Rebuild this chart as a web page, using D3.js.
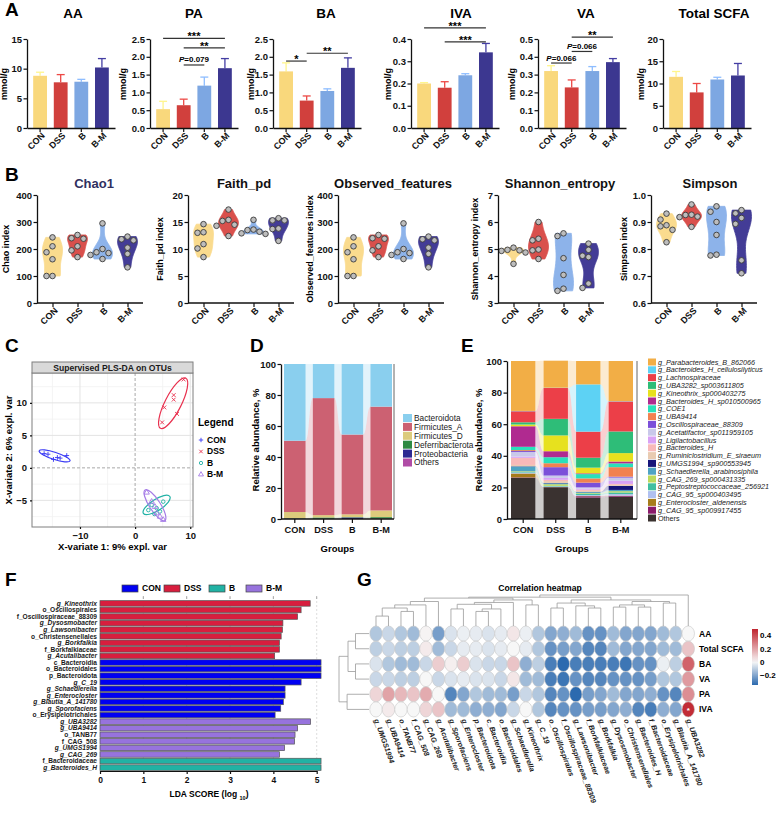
<!DOCTYPE html>
<html>
<head>
<meta charset="utf-8">
<script src="https://cdn.jsdelivr.net/npm/d3@7/dist/d3.min.js"></script>
<style>
  body { margin: 0; background: #fff; }
  svg { display: block; }
</style>
</head>
<body>
<div id="fig"></div>
<script>
var FONT = "'Liberation Sans', Arial, sans-serif";

// ---------- shared ----------
var groups = ["CON", "DSS", "B", "B-M"];
var groupColors = ["#F9D87C", "#D1403D", "#7DA7E2", "#3C3790"];
var violinColors = ["#FADB8E", "#D9504C", "#8DB3EA", "#433C96"];

// ---------- A: SCFA bars (mean, sd) ----------
var scfaNames = ["AA", "PA", "BA", "IVA", "VA", "Total SCFA"];
var aaMean = [8.8, 7.7, 7.8, 10.2],        aaSd = [0.6, 1.3, 0.4, 1.5];
var paMean = [0.53, 0.64, 1.19, 1.68],     paSd = [0.22, 0.17, 0.24, 0.27];
var baMean = [1.59, 0.77, 1.04, 1.69],     baSd = [0.24, 0.13, 0.06, 0.28];
var ivaMean = [0.200, 0.181, 0.237, 0.340], ivaSd = [0.004, 0.027, 0.007, 0.040];
var vaMean = [0.32, 0.228, 0.32, 0.37],    vaSd = [0.03, 0.042, 0.025, 0.02];
var totMean = [11.5, 8.0, 10.9, 11.8],     totSd = [1.2, 2.0, 0.5, 2.7];
var scfaMax = [15, 2.5, 2.5, 0.4, 0.5, 20];
var scfaStep = [5, 0.5, 0.5, 0.1, 0.1, 5];
// [from, to, level, label]
var aaSig = [];
var paSig = [[0, 3, 2.52, "***"], [1, 3, 2.25, "**"], [1, 2, 1.77, "P=0.079"]];
var baSig = [[0, 1, 1.88, "*"], [1, 3, 2.1, "**"]];
var ivaSig = [[0, 3, 0.45, "***"], [1, 3, 0.387, "***"]];
var vaSig = [[1, 3, 0.51, "**"], [1, 2, 0.43, "P=0.066"], [0, 1, 0.365, "P=0.066"]];
var totSig = [];

// ---------- B: alpha diversity (6 mice / group) ----------
var alphaNames = ["Chao1", "Faith_pd", "Observed_features", "Shannon_entropy", "Simpson"];
var alphaYLabels = ["Chao index", "Faith_pd index", "Observed_features index", "Shannon_entropy index", "Simpson index"];
var chao1 = [[243, 210, 188, 162, 100, 100], [240, 252, 238, 210, 195, 170], [295, 188, 185, 200, 178, 163], [236, 246, 232, 205, 182, 132]];
var faithPd = [[14.6, 13.0, 13.1, 10.9, 10.1, 8.5], [17.3, 15.2, 15.4, 14.5, 14.3, 12.4], [15.4, 13.6, 13.5, 13.2, 12.8, 12.9], [15.3, 15.3, 15.7, 13.8, 13.7, 11.5]];
var observed = [[243, 210, 188, 162, 100, 100], [240, 252, 238, 210, 195, 170], [295, 188, 185, 200, 178, 163], [236, 246, 232, 205, 182, 132]];
var shannon = [[5.05, 4.97, 4.95, 4.93, 4.87, 4.45], [6.0, 5.38, 5.32, 4.98, 4.95, 4.63], [5.58, 5.48, 4.66, 4.04, 3.53, 3.45], [5.2, 4.97, 4.75, 4.7, 3.72, 3.56]];
var simpson = [[0.931, 0.909, 0.888, 0.884, 0.871, 0.825], [0.965, 0.926, 0.927, 0.92, 0.918, 0.882], [0.958, 0.938, 0.9, 0.852, 0.776, 0.779], [0.944, 0.932, 0.915, 0.893, 0.758, 0.71]];
var alphaDomains = [[0, 400], [0, 20], [0, 400], [3, 7], [0.6, 1.0]];
var alphaSteps = [100, 5, 100, 1, 0.1];

// ---------- C: PLS-DA ----------
var plsCON = [[-16.5, 2.2], [-15.8, 2.1], [-14.8, 1.3], [-14.1, 1.6], [-13.6, 1.5], [-12.4, 1.9]];
var plsDSS = [[8.8, 13.6], [7.0, 11.2], [7.0, 10.5], [5.3, 9.3], [7.6, 8.3], [4.9, 7.0]];
var plsB = [[3.0, -5.7], [3.9, -6.2], [2.4, -6.5], [4.5, -6.7], [3.5, -7.1], [5.1, -5.2]];
var plsBM = [[2.1, -3.8], [3.0, -5.2], [3.6, -6.0], [3.9, -7.0], [4.5, -7.5], [5.1, -8.0]];
// ellipse: centre x, centre y, major half-axis dx, dy, minor/major ratio
var ellCON = [-14.6, 1.85, 2.8, -0.77, 0.22];
var ellDSS = [6.9, 9.95, 2.3, 3.85, 0.29];
var ellB = [3.9, -5.7, 2.4, 1.3, 0.36];
var ellBM = [3.6, -5.75, -1.8, 2.35, 0.3];
var plsColors = ["#3A3AF5", "#E8304E", "#22B2A6", "#A57BE6"];

// ---------- D: phylum composition (%) ----------
var phylumNames = ["Bacteroidota", "Firmicutes_A", "Firmicutes_D", "Deferribacterota", "Proteobacteria", "Others"];
var phylumColors = ["#8ACFEE", "#CC6172", "#DCCB7C", "#2E8A43", "#2C2A92", "#B04CA6"];
var bacteroidota = [49.5, 22.0, 45.5, 27.5];
var firmicutesA = [46.0, 75.5, 51.5, 67.0];
var firmicutesD = [4.0, 1.5, 1.8, 4.3];
var deferribacterota = [0.3, 0.8, 0.2, 1.0];
var proteobacteria = [0.1, 0.1, 1.0, 0.1];
var phylumOthers = [0.1, 0.1, 0.0, 0.1];

// ---------- E: genus composition (%) ----------
var genusNames = ["g_Parabacteroides_B_862066", "g_Bacteroides_H_cellulosilyticus", "g_Lachnospiraceae",
  "g_UBA3282_sp003611805", "g_Kineothrix_sp000403275", "g_Bacteroides_H_sp010500965", "g_COE1", "g_UBA9414",
  "g_Oscillospiraceae_88309", "g_Acetatifactor_sp011959105", "g_Ligilactobacillus", "g_Bacteroides_H",
  "g_Ruminiclostridium_E_siraeum", "g_UMGS1994_sp900553945", "g_Schaedlerella_arabinosiphila",
  "g_CAG_269_sp000431335", "g_Peptostreptococcaceae_256921", "g_CAG_95_sp000403495",
  "g_Enterocloster_aldenensis", "g_CAG_95_sp009917455", "Others"];
var genusColors = ["#F2AE46", "#5DD2F4", "#EC3F48", "#2EBD78", "#E7E11E", "#B02A90", "#29E0BA", "#F28150",
  "#7B4FD9", "#C9C8EA", "#D9A2F5", "#F8B9B9", "#E9CBB1", "#16157A", "#4FA3C4", "#BCD95B", "#41BFA1",
  "#B0C0F0", "#A67C1B", "#8A1B6B", "#3A3230"];
var genusValues = [
  [31.6, 17.1, 14.8, 25.4], [0.2, 0.2, 29.9, 0.2], [7.0, 19.5, 16.5, 19.0], [1.4, 10.5, 6.3, 13.7],
  [1.1, 10.0, 3.6, 5.3], [13.0, 3.8, 0.5, 1.2], [2.1, 3.8, 2.7, 2.4], [0.6, 2.5, 2.7, 6.0],
  [0.6, 5.3, 3.0, 0.6], [2.9, 1.5, 0.8, 2.0], [0.8, 1.2, 0.6, 2.0], [4.5, 0.8, 0.8, 0.6],
  [0.8, 1.2, 0.6, 0.6], [0.2, 0.2, 0.2, 2.6], [3.0, 0.6, 0.5, 0.8], [0.4, 1.0, 0.4, 0.8],
  [0.4, 0.4, 1.0, 1.0], [0.6, 0.3, 0.5, 1.0], [2.5, 0.1, 0.2, 0.2], [0.3, 0.1, 0.8, 0.5],
  [26.0, 20.1, 13.6, 14.1]];

// ---------- F: LEfSe ----------
var lefseTaxa = ["g_Kineothrix", "o_Oscillospirales", "f_Oscillospiraceae_88309", "g_Dysosmobacter", "g_Lawsonibacter",
  "o_Christensenellales", "g_Borkfalkia", "f_Borkfalkiaceae", "g_Acutalibacter",
  "c_Bacteroidia", "o_Bacteroidales", "p_Bacteroidota", "g_C_19", "g_Schaedlerella", "g_Enterocloster",
  "g_Blautia_A_141780", "g_Sporofaciens", "o_Erysipelotrichales",
  "g_UBA3282", "g_UBA9414", "o_TANB77", "f_CAG_508", "g_UMGS1994", "g_CAG_269",
  "f_Bacteroidaceae", "g_Bacteroides_H"];
var lefseScores = [4.85, 4.64, 4.56, 4.22, 4.21, 4.18, 4.14, 4.14, 4.03,
  5.1, 5.1, 5.1, 4.64, 4.27, 4.27, 4.23, 4.17, 4.04,
  4.86, 4.56, 4.50, 4.49, 4.26, 4.14,
  5.1, 5.1];
var lefseGroup = ["DSS", "DSS", "DSS", "DSS", "DSS", "DSS", "DSS", "DSS", "DSS",
  "CON", "CON", "CON", "CON", "CON", "CON", "CON", "CON", "CON",
  "B-M", "B-M", "B-M", "B-M", "B-M", "B-M", "B", "B"];
var lefseColors = {"CON": "#0000F2", "DSS": "#D81E3E", "B": "#21B2A4", "B-M": "#9773DD"};
var lefseTicks = [0, 1, 2, 3, 4, 5];

// ---------- G: correlation heatmap ----------
var corrTaxa = ["g_UMGS1994", "g_UBA9414", "o_TANB77", "f_CAG_508", "g_CAG_269", "g_Acutalibacter", "g_Sporofaciens",
  "g_Enterocloster", "p_Bacteroidota", "c_Bacteroidia", "o_Bacteroidales", "g_Schaedlerella", "g_Kineothrix", "g_C_19",
  "o_Oscillospirales", "f_Oscillospiraceae_88309", "g_Lawsonibacter", "f_Borkfalkiaceae", "g_Borkfalkia",
  "g_Dysosmobacter", "o_Christensenellales", "g_Bacteroides_H", "f_Bacteroidaceae", "o_Erysipelotrichales",
  "g_Blautia_A_141780", "g_UBA3282"];
var corrRows = ["AA", "Total SCFA", "BA", "VA", "PA", "IVA"];
var corAA = [-0.12, -0.08, -0.12, -0.15, 0.01, -0.22, -0.05, -0.02, -0.03, -0.05, -0.03, 0.04, -0.02, -0.12, -0.2, -0.18, -0.15, -0.25, -0.25, -0.15, -0.2, -0.2, -0.2, -0.15, -0.12, 0.0];
var corTotal = [-0.1, -0.08, -0.1, -0.1, 0.03, -0.15, -0.08, -0.03, -0.03, -0.05, -0.03, 0.0, -0.03, -0.12, -0.25, -0.22, -0.2, -0.28, -0.28, -0.15, -0.2, -0.2, -0.2, -0.15, -0.15, 0.12];
var corBA = [-0.05, -0.12, -0.15, -0.15, -0.08, 0.1, 0.02, 0.1, -0.05, -0.08, -0.08, 0.12, -0.18, -0.1, -0.3, -0.35, -0.3, -0.3, -0.3, -0.3, -0.32, -0.25, -0.25, -0.02, -0.1, 0.35];
var corVA = [-0.08, -0.08, -0.1, -0.1, 0.0, -0.08, -0.05, -0.03, -0.05, -0.05, -0.08, 0.04, -0.15, -0.15, -0.3, -0.32, -0.25, -0.28, -0.28, -0.25, -0.25, -0.25, -0.22, -0.12, -0.12, 0.22];
var corPA = [0.08, 0.2, 0.15, 0.12, 0.18, 0.0, -0.28, -0.2, -0.12, -0.15, -0.15, -0.22, -0.08, -0.12, -0.28, -0.25, -0.35, -0.22, -0.2, -0.15, -0.2, -0.2, -0.18, -0.25, -0.28, 0.25];
var corIVA = [0.0, 0.03, 0.0, 0.0, 0.08, 0.12, -0.15, -0.15, -0.18, -0.18, -0.2, -0.08, 0.0, -0.12, -0.28, -0.25, -0.25, -0.22, -0.22, -0.2, -0.18, -0.28, -0.3, -0.18, -0.2, 0.48];
var corSignif = [[5, 25]]; // [row, col] with *
// dendrograms: [childA, childB, height]; nodes >= leaf count are earlier merges
var colTree = [[0, 1, 0.32], [2, 3, 0.47], [26, 27, 0.58], [28, 4, 0.68], [29, 5, 0.79],
  [6, 7, 0.55], [8, 9, 0.47], [32, 10, 0.55], [31, 33, 0.7], [34, 11, 0.76], [12, 13, 0.68], [35, 36, 0.84],
  [30, 37, 0.9], [14, 15, 0.58], [17, 18, 0.58], [16, 40, 0.65], [39, 41, 0.74], [19, 20, 0.61], [21, 22, 0.61],
  [43, 44, 0.68], [23, 24, 0.74], [45, 46, 0.79], [42, 47, 0.84], [38, 48, 0.93], [49, 25, 1.0]];
var rowTree = [[0, 1, 0.45], [2, 3, 0.45], [6, 7, 0.7], [4, 5, 0.73], [8, 9, 1.0]];

// ================= drawing =================
var svg = d3.select("#fig").append("svg")
  .attr("width", 778).attr("height", 814)
  .style("font-family", FONT);

function label(t, x, y) {
  svg.append("text").attr("x", x).attr("y", y).attr("font-size", 19)
    .attr("font-weight", "bold").attr("fill", "#000").text(t);
}
function styleAxis(ax, fs) {
  ax.attr("font-family", FONT).attr("font-size", fs).attr("font-weight", "bold");
  ax.select(".domain").attr("stroke", "#111").attr("stroke-width", 1.3);
  ax.selectAll(".tick line").attr("stroke", "#111").attr("stroke-width", 1.2);
  ax.selectAll(".tick text").attr("fill", "#111");
}
function yTitle(t, x, y, fs) {
  svg.append("text").attr("transform", "translate(" + x + "," + y + ") rotate(-90)")
    .attr("text-anchor", "middle").attr("font-size", fs).attr("font-weight", "bold").text(t);
}
function rotXLabels(ax) {
  ax.selectAll(".tick text").attr("x", 0).attr("y", 0).attr("dy", "0.35em")
    .attr("text-anchor", "end").attr("transform", "translate(3,6) rotate(-45)");
}

// ----- A -----
label("A", 5, 16);
var aMeans = [aaMean, paMean, baMean, ivaMean, vaMean, totMean];
var aSds = [aaSd, paSd, baSd, ivaSd, vaSd, totSd];
var aSigs = [aaSig, paSig, baSig, ivaSig, vaSig, totSig];
var aAxisX = [27, 150, 273, 411, 538, 663];
var aTitleX = [73, 194, 326, 461, 586, 714];
var aYLabX = [7, 126, 254, 391, 515, 644];

scfaNames.forEach(function (nm, k) {
  var x0 = aAxisX[k];
  var y = d3.scaleLinear().domain([0, scfaMax[k]]).range([128, 39]);
  var x = d3.scaleBand().domain(groups).range([x0, x0 + 88]).paddingInner(0.33).paddingOuter(0.3);
  var g = svg.append("g");
  var mean = aMeans[k], sd = aSds[k];

  svg.append("text").attr("x", aTitleX[k]).attr("y", 18).attr("text-anchor", "middle")
    .attr("font-size", 13.5).attr("font-weight", "bold").text(nm);
  yTitle("mmol/g", aYLabX[k], 84, 9);

  // error bars (upper only)
  groups.forEach(function (gn, i) {
    var cx = x(gn) + x.bandwidth() / 2;
    var ec = d3.color(groupColors[i]).brighter(0.35).formatHex();
    g.append("line").attr("x1", cx).attr("x2", cx).attr("y1", y(mean[i])).attr("y2", y(mean[i] + sd[i]))
      .attr("stroke", ec).attr("stroke-width", 1.3);
    g.append("line").attr("x1", cx - 4).attr("x2", cx + 4).attr("y1", y(mean[i] + sd[i])).attr("y2", y(mean[i] + sd[i]))
      .attr("stroke", ec).attr("stroke-width", 1.3);
  });
  g.selectAll("rect.bar").data(groups).enter().append("rect").attr("class", "bar")
    .attr("x", function (d) { return x(d); })
    .attr("y", function (d, i) { return y(mean[i]); })
    .attr("width", x.bandwidth())
    .attr("height", function (d, i) { return y(0) - y(mean[i]); })
    .attr("fill", function (d, i) { return groupColors[i]; });

  var fmt = scfaStep[k] < 1 ? d3.format(".1f") : d3.format("d");
  var ay = svg.append("g").attr("transform", "translate(" + x0 + ",0)")
    .call(d3.axisLeft(y).tickValues(d3.range(0, scfaMax[k] + 1e-9, scfaStep[k])).tickSize(3.5).tickPadding(1.5).tickSizeOuter(0).tickFormat(fmt));
  styleAxis(ay, 9.5);
  var ax = svg.append("g").attr("transform", "translate(0,128)")
    .call(d3.axisBottom(x).tickSize(4).tickSizeOuter(0));
  styleAxis(ax, 9);
  rotXLabels(ax);

  aSigs[k].forEach(function (s) {
    var xa = x(groups[s[0]]) + x.bandwidth() / 2, xb = x(groups[s[1]]) + x.bandwidth() / 2, yy = y(s[2]);
    svg.append("line").attr("x1", xa).attr("x2", xb).attr("y1", yy).attr("y2", yy)
      .attr("stroke", "#333").attr("stroke-width", 1.2);
    var t = svg.append("text").attr("x", (xa + xb) / 2).attr("text-anchor", "middle").attr("font-weight", "bold");
    if (s[3].indexOf("P=") === 0) {
      t.attr("y", yy - 2.5).attr("font-size", 8);
      t.append("tspan").attr("font-style", "italic").text("P");
      t.append("tspan").text(s[3].slice(1));
    } else {
      t.attr("y", yy + 2).attr("font-size", 11).text(s[3]);
    }
  });
});

// ----- B -----
label("B", 5, 181);
var alphaData = [chao1, faithPd, observed, shannon, simpson];
var bAxisX = [37, 188, 338, 498, 651];
var bTitleX = [94, 244, 393, 560, 710];
var bYLabX = [9, 163, 313, 478, 627];

alphaNames.forEach(function (nm, k) {
  var x0 = bAxisX[k];
  var dom = alphaDomains[k];
  var y = d3.scaleLinear().domain(dom).range([303, 195]);
  var x = d3.scalePoint().domain(groups).range([x0, x0 + 106]).padding(0.62);

  svg.append("text").attr("x", bTitleX[k]).attr("y", 188).attr("text-anchor", "middle")
    .attr("font-size", 13).attr("font-weight", "bold").attr("fill", k === 0 ? "#30305F" : "#111").text(nm);
  yTitle(alphaYLabels[k], bYLabX[k], 249, 9);

  groups.forEach(function (gn, gi) {
    var vals = alphaData[k][gi];
    var lo = d3.min(vals), hi = d3.max(vals);
    var bw = Math.max((hi - lo) * 0.24, (dom[1] - dom[0]) * 0.015);
    var dens = d3.range(41).map(function (i) {
      var v = lo + (hi - lo) * i / 40;
      return [v, d3.mean(vals, function (d) { var u = (v - d) / bw; return Math.exp(-0.5 * u * u); })];
    });
    var w = d3.scaleLinear().domain([0, d3.max(dens, function (d) { return d[1]; })]).range([0, 10]);
    var cx = x(gn);
    svg.append("path").datum(dens)
      .attr("d", d3.area().curve(d3.curveBasis)
        .y(function (d) { return y(d[0]); })
        .x0(function (d) { return cx - w(d[1]); })
        .x1(function (d) { return cx + w(d[1]); }))
      .attr("fill", violinColors[gi]).attr("stroke", violinColors[gi]).attr("stroke-width", 0.8);

    // simple deterministic swarm
    var placed = [];
    vals.slice().sort(d3.descending).forEach(function (v) {
      var py = y(v), offs = [0, -6, 6, -12, 12], ox = 0;
      for (var j = 0; j < offs.length; j++) {
        var ok = placed.every(function (p) { return Math.hypot(p[0] - offs[j], p[1] - py) >= 6; });
        if (ok) { ox = offs[j]; break; }
      }
      placed.push([ox, py]);
    });
    svg.selectAll(null).data(placed).enter().append("circle")
      .attr("cx", function (d) { return cx + d[0]; }).attr("cy", function (d) { return d[1]; })
      .attr("r", 2.8).attr("fill", "#BDBDBD").attr("stroke", "#3A3A3A").attr("stroke-width", 0.9);
  });

  var fmt = alphaSteps[k] < 1 ? d3.format(".1f") : d3.format("d");
  var ay = svg.append("g").attr("transform", "translate(" + x0 + ",0)")
    .call(d3.axisLeft(y).tickValues(d3.range(dom[0], dom[1] + 1e-9, alphaSteps[k])).tickSize(3.5).tickPadding(1.5).tickSizeOuter(0).tickFormat(fmt));
  styleAxis(ay, 9.5);
  var ax = svg.append("g").attr("transform", "translate(0,303)")
    .call(d3.axisBottom(x).tickSize(4).tickSizeOuter(0));
  styleAxis(ax, 9);
  ax.select(".domain").attr("d", "M" + x0 + ",0H" + (x0 + 106));
  rotXLabels(ax);
});

// ----- C -----
label("C", 5, 352);
(function () {
  var px0 = 32, px1 = 193, py0 = 373, py1 = 527;
  var x = d3.scaleLinear().domain([-18.7, 10.5]).range([px0, px1]);
  var y = d3.scaleLinear().domain([-9.1, 14.6]).range([py1, py0]);
  var g = svg.append("g");
  g.append("rect").attr("x", px0).attr("y", py0).attr("width", px1 - px0).attr("height", py1 - py0).attr("fill", "#fff");
  [-15, -5, 5].forEach(function (v) {
    g.append("line").attr("x1", x(v)).attr("x2", x(v)).attr("y1", py0).attr("y2", py1).attr("stroke", "#F1F1F1").attr("stroke-width", 0.8);
  });
  [-7.5, -2.5, 2.5, 7.5, 12.5].forEach(function (v) {
    g.append("line").attr("x1", px0).attr("x2", px1).attr("y1", y(v)).attr("y2", y(v)).attr("stroke", "#F1F1F1").attr("stroke-width", 0.8);
  });
  [-10, 10].forEach(function (v) {
    g.append("line").attr("x1", x(v)).attr("x2", x(v)).attr("y1", py0).attr("y2", py1).attr("stroke", "#E3E3E3").attr("stroke-width", 1);
  });
  [-5, 5, 10].forEach(function (v) {
    g.append("line").attr("x1", px0).attr("x2", px1).attr("y1", y(v)).attr("y2", y(v)).attr("stroke", "#E3E3E3").attr("stroke-width", 1);
  });
  g.append("line").attr("x1", x(0)).attr("x2", x(0)).attr("y1", py0).attr("y2", py1).attr("stroke", "#A8A8A8").attr("stroke-dasharray", "3,2");
  g.append("line").attr("x1", px0).attr("x2", px1).attr("y1", y(0)).attr("y2", y(0)).attr("stroke", "#A8A8A8").attr("stroke-dasharray", "3,2");

  var sets = [plsCON, plsDSS, plsB, plsBM];
  var ells = [ellCON, ellDSS, ellB, ellBM];
  var kx = (px1 - px0) / (10.5 + 18.7), ky = (py1 - py0) / (14.6 + 9.1);
  ells.forEach(function (e, i) {
    var vx = e[2] * kx, vy = -e[3] * ky;
    var len = Math.hypot(vx, vy), ang = Math.atan2(vy, vx) * 180 / Math.PI;
    g.append("ellipse").attr("cx", x(e[0])).attr("cy", y(e[1])).attr("rx", len).attr("ry", len * e[4])
      .attr("transform", "rotate(" + ang + "," + x(e[0]) + "," + y(e[1]) + ")")
      .attr("fill", "none").attr("stroke", plsColors[i]).attr("stroke-width", 1.2);
  });
  function marker(sel, i, cx, cy, s) {
    if (i === 0) sel.append("path").attr("d", "M" + (cx - s) + "," + cy + "H" + (cx + s) + "M" + cx + "," + (cy - s) + "V" + (cy + s));
    else if (i === 1) sel.append("path").attr("d", "M" + (cx - s * 0.8) + "," + (cy - s * 0.8) + "L" + (cx + s * 0.8) + "," + (cy + s * 0.8) + "M" + (cx - s * 0.8) + "," + (cy + s * 0.8) + "L" + (cx + s * 0.8) + "," + (cy - s * 0.8));
    else if (i === 2) sel.append("circle").attr("cx", cx).attr("cy", cy).attr("r", s * 0.75);
    else sel.append("path").attr("d", d3.symbol(d3.symbolTriangle, s * s * 2.2)()).attr("transform", "translate(" + cx + "," + cy + ")");
  }
  sets.forEach(function (pts, i) {
    var mg = g.append("g").attr("fill", "none").attr("stroke", plsColors[i]).attr("stroke-width", 0.9);
    pts.forEach(function (p) { marker(mg, i, x(p[0]), y(p[1]), 2.4); });
  });

  // frame + strip
  g.append("rect").attr("x", px0).attr("y", py0).attr("width", px1 - px0).attr("height", py1 - py0)
    .attr("fill", "none").attr("stroke", "#7F7F7F").attr("stroke-width", 1);
  g.append("rect").attr("x", px0).attr("y", 362).attr("width", px1 - px0).attr("height", 11)
    .attr("fill", "#D9D9D9").attr("stroke", "#7F7F7F").attr("stroke-width", 1);
  svg.append("text").attr("x", (px0 + px1) / 2).attr("y", 370.5).attr("text-anchor", "middle")
    .attr("font-size", 8.6).attr("font-weight", "bold").attr("fill", "#1a1a1a").text("Supervised PLS-DA on OTUs");

  var ay = svg.append("g").attr("transform", "translate(" + px0 + ",0)")
    .call(d3.axisLeft(y).tickValues([-5, 0, 5, 10]).tickSize(2).tickSizeOuter(0));
  styleAxis(ay, 9.5); ay.select(".domain").remove();
  var ax = svg.append("g").attr("transform", "translate(0," + py1 + ")")
    .call(d3.axisBottom(x).tickValues([-10, 0, 10]).tickSize(2).tickSizeOuter(0));
  styleAxis(ax, 9.5); ax.select(".domain").remove();
  yTitle("X-variate 2: 6% expl. var", 12, 450, 9.5);
  svg.append("text").attr("x", (px0 + px1) / 2).attr("y", 550).attr("text-anchor", "middle")
    .attr("font-size", 9.5).attr("font-weight", "bold").text("X-variate 1: 9% expl. var");

  svg.append("text").attr("x", 198).attr("y", 426).attr("font-size", 10).attr("font-weight", "bold").text("Legend");
  groups.forEach(function (gn, i) {
    var ly = 440 + i * 11.5;
    var mg = svg.append("g").attr("fill", "none").attr("stroke", plsColors[i]).attr("stroke-width", 0.9);
    marker(mg, i, 201, ly, 2.2);
    svg.append("text").attr("x", 207).attr("y", ly).attr("dy", "0.35em").attr("font-size", 8.5)
      .attr("font-weight", "bold").text(gn === "B" ? " B" : gn);
  });
})();

// ----- stacked composition helper (D, E) -----
function stackedPanel(names, colors, cols, opt) {
  var y = d3.scaleLinear().domain([0, 100]).range([519, opt.top]);
  var x = d3.scaleBand().domain(groups).range([opt.b0, opt.b1]).paddingInner(0.25).paddingOuter(0);
  var rows = groups.map(function (gn, gi) {
    var r = {group: gn};
    names.forEach(function (n, ni) { r[n] = cols[ni][gi]; });
    return r;
  });
  var keys = names.slice().reverse();
  var series = d3.stack().keys(keys)(rows);
  var g = svg.append("g");
  // flows between neighbouring bars
  series.forEach(function (s) {
    var col = colors[names.indexOf(s.key)];
    for (var i = 0; i < groups.length - 1; i++) {
      var xa = x(groups[i]) + x.bandwidth(), xb = x(groups[i + 1]), xm = (xa + xb) / 2;
      var a0 = y(s[i][0]), a1 = y(s[i][1]), b0 = y(s[i + 1][0]), b1 = y(s[i + 1][1]);
      g.append("path")
        .attr("d", "M" + xa + "," + a1 + "C" + xm + "," + a1 + " " + xm + "," + b1 + " " + xb + "," + b1 +
          "L" + xb + "," + b0 + "C" + xm + "," + b0 + " " + xm + "," + a0 + " " + xa + "," + a0 + "Z")
        .attr("fill", col).attr("opacity", 0.25);
    }
  });
  series.forEach(function (s) {
    var col = colors[names.indexOf(s.key)];
    g.selectAll(null).data(s).enter().append("rect")
      .attr("x", function (d) { return x(d.data.group); })
      .attr("y", function (d) { return y(d[1]); })
      .attr("width", x.bandwidth())
      .attr("height", function (d) { return Math.max(0, y(d[0]) - y(d[1])); })
      .attr("fill", col);
  });
  g.append("line").attr("x1", opt.right).attr("x2", opt.right).attr("y1", opt.top).attr("y2", 519)
    .attr("stroke", "#666").attr("stroke-width", 1);
  var ay = svg.append("g").attr("transform", "translate(" + opt.axis + ",0)")
    .call(d3.axisLeft(y).tickValues([0, 20, 40, 60, 80, 100]).tickSize(3.5).tickPadding(1.5).tickSizeOuter(0));
  styleAxis(ay, 9.5);
  var ax = svg.append("g").attr("transform", "translate(0,519)")
    .call(d3.axisBottom(x).tickSize(4).tickSizeOuter(0));
  styleAxis(ax, 9.2);
  ax.select(".domain").attr("d", "M" + opt.axis + ",0H" + opt.right);
  ax.selectAll(".tick text").attr("y", 7);
  yTitle("Relative abundance, %", opt.ylab, 440, 9.5);
  svg.append("text").attr("x", (opt.axis + opt.right) / 2).attr("y", 552).attr("text-anchor", "middle")
    .attr("font-size", 9.5).attr("font-weight", "bold").text("Groups");

  names.forEach(function (n, i) {
    var ly = opt.legY + i * opt.legStep;
    svg.append("rect").attr("x", opt.legX).attr("y", ly - opt.legBox / 2).attr("width", opt.legBox + 1).attr("height", opt.legBox)
      .attr("fill", colors[i]);
    svg.append("text").attr("x", opt.legX + opt.legBox + 3).attr("y", ly).attr("dy", "0.35em")
      .attr("font-size", opt.legFont).attr("font-weight", opt.legWeight)
      .attr("font-style", n.indexOf("g_") === 0 ? "italic" : "normal").attr("fill", "#1a1a1a").text(n);
  });
}

label("D", 250, 352);
stackedPanel(phylumNames, phylumColors,
  [bacteroidota, firmicutesA, firmicutesD, deferribacterota, proteobacteria, phylumOthers],
  {top: 364, b0: 284, b1: 392, axis: 281, right: 394, ylab: 259,
   legX: 403, legY: 418, legStep: 8.9, legBox: 8, legFont: 8.3, legWeight: "normal"});

label("E", 461, 352);
stackedPanel(genusNames, genusColors, genusValues,
  {top: 361, b0: 511, b1: 633, axis: 507, right: 637, ylab: 482,
   legX: 648, legY: 362, legStep: 7.8, legBox: 7, legFont: 7.2, legWeight: "normal"});

// ----- F -----
label("F", 5, 586);
(function () {
  var x = d3.scaleLinear().domain([0, 5]).range([100, 316.7]);
  var y = d3.scaleBand().domain(lefseTaxa).range([600, 771]).paddingInner(0.16).paddingOuter(0.1);
  var g = svg.append("g");
  lefseTicks.slice(1).forEach(function (t) {
    g.append("line").attr("x1", x(t)).attr("x2", x(t)).attr("y1", 597).attr("y2", 771)
      .attr("stroke", "#CFCFCF").attr("stroke-width", 0.7).attr("stroke-dasharray", "2,2");
    g.append("line").attr("x1", x(t)).attr("x2", x(t)).attr("y1", 596).attr("y2", 599)
      .attr("stroke", "#999").attr("stroke-width", 0.8);
  });
  g.selectAll("rect.lda").data(lefseTaxa).enter().append("rect").attr("class", "lda")
    .attr("x", x(0)).attr("y", function (d) { return y(d); })
    .attr("width", function (d, i) { return x(lefseScores[i]) - x(0); })
    .attr("height", y.bandwidth())
    .attr("fill", function (d, i) { return lefseColors[lefseGroup[i]]; })
    .attr("stroke", "#555").attr("stroke-width", 0.7);
  g.selectAll("text.tax").data(lefseTaxa).enter().append("text").attr("class", "tax")
    .attr("x", 97).attr("y", function (d) { return y(d) + y.bandwidth() / 2; }).attr("dy", "0.35em")
    .attr("text-anchor", "end").attr("font-size", 6.6).attr("font-weight", "bold")
    .attr("font-style", function (d) { return d.indexOf("g_") === 0 ? "italic" : "normal"; })
    .attr("fill", "#1a1a1a").text(function (d) { return d; });
  var ax = svg.append("g").attr("transform", "translate(0,771)")
    .call(d3.axisBottom(x).tickValues(lefseTicks).tickSize(3).tickSizeOuter(0).tickFormat(d3.format("d")));
  styleAxis(ax, 8.5);
  ax.select(".domain").attr("stroke-width", 1);
  var t = svg.append("text").attr("x", 209).attr("y", 797).attr("text-anchor", "middle")
    .attr("font-size", 8.5).attr("font-weight", "bold");
  t.append("tspan").text("LDA SCORE (log ");
  t.append("tspan").attr("font-size", 5.5).attr("dy", 2.5).text("10");
  t.append("tspan").attr("dy", -2.5).text(")");

  var legX = [122, 164, 209, 246];
  groups.forEach(function (gn, i) {
    svg.append("rect").attr("x", legX[i]).attr("y", 585).attr("width", 16).attr("height", 7)
      .attr("fill", lefseColors[gn]).attr("stroke", "#444").attr("stroke-width", 0.7);
    svg.append("text").attr("x", legX[i] + 20).attr("y", 588.5).attr("dy", "0.35em")
      .attr("font-size", 8.5).attr("font-weight", "bold").text(gn);
  });
})();

// ----- G -----
label("G", 357, 586);
(function () {
  var x = d3.scaleBand().domain(corrTaxa).range([369.75, 694.5]);
  var y = d3.scaleBand().domain(corrRows).range([626, 717]);
  var color = d3.scaleLinear().domain([-0.35, 0, 0.5]).range(["#2C6AAF", "#F7F7F7", "#C0242E"]);
  var corMat = [corAA, corTotal, corBA, corVA, corPA, corIVA];

  svg.append("text").attr("x", 540).attr("y", 591).attr("text-anchor", "middle")
    .attr("font-size", 8.6).attr("font-weight", "bold").text("Correlation heatmap");

  corMat.forEach(function (row, ri) {
    svg.selectAll(null).data(row).enter().append("ellipse")
      .attr("cx", function (d, ci) { return x(corrTaxa[ci]) + x.bandwidth() / 2; })
      .attr("cy", y(corrRows[ri]) + y.bandwidth() / 2)
      .attr("rx", x.bandwidth() / 2).attr("ry", y.bandwidth() / 2)
      .attr("fill", function (d) { return color(d); })
      .attr("stroke", "#C8C8C8").attr("stroke-width", 0.6);
  });
  corSignif.forEach(function (s) {
    svg.append("text").attr("x", x(corrTaxa[s[1]]) + x.bandwidth() / 2)
      .attr("y", y(corrRows[s[0]]) + y.bandwidth() / 2 + 3.5).attr("text-anchor", "middle")
      .attr("font-size", 8).attr("fill", "#fff").attr("font-weight", "bold").text("*");
  });
  svg.selectAll("text.rowlab").data(corrRows).enter().append("text").attr("class", "rowlab")
    .attr("x", 699).attr("y", function (d) { return y(d) + y.bandwidth() / 2; }).attr("dy", "0.35em")
    .attr("font-size", 8.5).attr("font-weight", "bold").text(function (d) { return d; });
  svg.selectAll("text.collab").data(corrTaxa).enter().append("text").attr("class", "collab")
    .attr("transform", function (d) { return "translate(" + (x(d) + x.bandwidth() / 2 - 2) + ",720) rotate(70)"; })
    .attr("font-size", 7.3).attr("font-weight", "bold").attr("font-style", "italic")
    .attr("fill", "#1a1a1a").text(function (d) { return d; });

  // column dendrogram
  var nodes = corrTaxa.map(function (d) { return {x: x(d) + x.bandwidth() / 2, h: 0}; });
  var hy = function (h) { return 626 - h * 31; };
  var dg = svg.append("g").attr("fill", "none").attr("stroke", "#9A9A9A").attr("stroke-width", 0.8);
  colTree.forEach(function (m) {
    var a = nodes[m[0]], b = nodes[m[1]];
    dg.append("path").attr("d", "M" + a.x + "," + hy(a.h) + "V" + hy(m[2]) + "H" + b.x + "V" + hy(b.h));
    nodes.push({x: (a.x + b.x) / 2, h: m[2]});
  });
  // row dendrogram
  var rnodes = corrRows.map(function (d) { return {y: y(d) + y.bandwidth() / 2, h: 0}; });
  var hx = function (h) { return 369 - h * 30; };
  rowTree.forEach(function (m) {
    var a = rnodes[m[0]], b = rnodes[m[1]];
    dg.append("path").attr("d", "M" + hx(a.h) + "," + a.y + "H" + hx(m[2]) + "V" + b.y + "H" + hx(b.h));
    rnodes.push({y: (a.y + b.y) / 2, h: m[2]});
  });

  // colour bar
  var cb = d3.scaleLinear().domain([-0.35, 0.5]).range([685, 629]);
  var defs = svg.append("defs");
  var grad = defs.append("linearGradient").attr("id", "cbar").attr("x1", 0).attr("x2", 0).attr("y1", 1).attr("y2", 0);
  d3.range(0, 1.0001, 0.1).forEach(function (t) {
    grad.append("stop").attr("offset", t).attr("stop-color", color(-0.35 + t * 0.85));
  });
  svg.append("rect").attr("x", 752).attr("y", 629).attr("width", 6).attr("height", 56).attr("fill", "url(#cbar)");
  [0.4, 0.2, 0, -0.2].forEach(function (v) {
    svg.append("text").attr("x", 760).attr("y", cb(v)).attr("dy", "0.35em").attr("font-size", 8)
      .attr("font-weight", "bold").text(v === 0 ? "0" : d3.format(".1f")(v));
  });
})();
</script>
</body>
</html>
